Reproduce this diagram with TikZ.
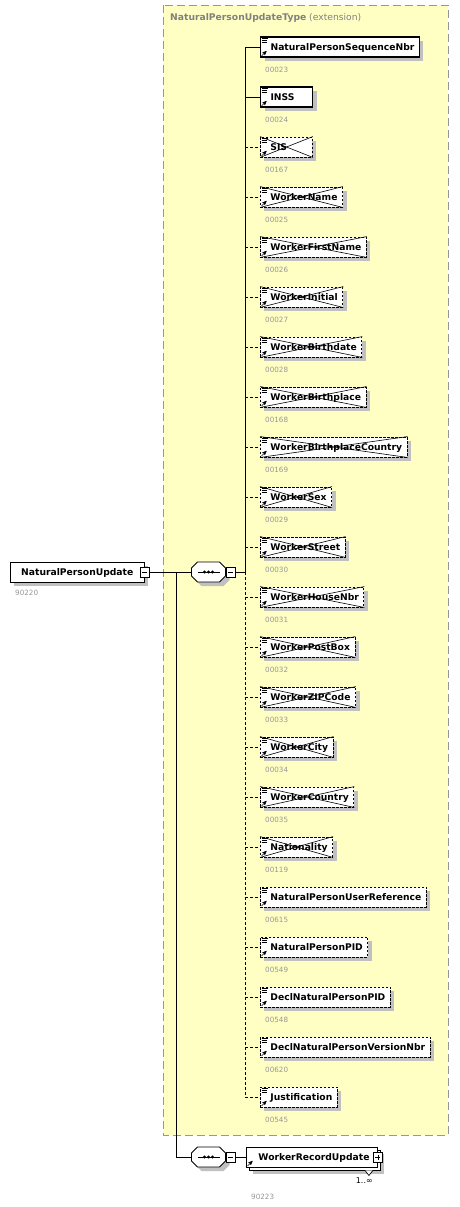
\documentclass[tikz,border=0pt]{standalone}
\usepackage{fontspec}
\setmainfont{DejaVu Sans}
\usetikzlibrary{positioning,arrows,shadows}
\definecolor{typefill}{RGB}{255,255,196}
\definecolor{typeline}{RGB}{150,150,150}
\definecolor{shadowgrey}{RGB}{192,192,192}
\definecolor{numgrey}{RGB}{150,150,150}
\definecolor{titlegrey}{RGB}{128,128,128}
\newlength\eltmin
\setlength\eltmin{37pt}
\newcommand\eltname[1]{\hspace*{5pt}\setbox0=\hbox{#1}\ifdim\wd0<\eltmin\makebox[\eltmin][l]{#1}\else\box0\fi}
\newcommand\seqpath{(-17,-4) -- (-11,-10) -- (11,-10) -- (17,-4) -- (17,4) -- (11,10) -- (-11,10) -- (-17,4) -- cycle}
\tikzset{
	>=stealth',
	shade box/.style={drop shadow={shadow xshift=4pt, shadow yshift=-4pt, fill=shadowgrey, opacity=1}},
	element/.style={
		rectangle,
		draw=black, fill=white,
		anchor=west,
		minimum height=20pt,
		inner ysep=0pt, inner xsep=5pt,
		text height=6.8pt, text depth=0pt,
		font=\fontsize{9.2}{11}\selectfont\bfseries,
		shade box},
	kindm/.style={line width=1.1pt},
	kindo/.style={line width=0.9pt, dash pattern=on 2.5pt off 1.5pt},
	kindx/.style={kindo,
		append after command={
			(\tikzlastnode.north west) edge[draw=black, solid, line width=0.6pt] (\tikzlastnode.south east)
			(\tikzlastnode.south west) edge[draw=black, solid, line width=0.6pt] (\tikzlastnode.north east)}},
	number/.style={anchor=west, inner sep=0pt, text=numgrey, font=\fontsize{7.2}{8}\selectfont},
	compositor/.style={rectangle, minimum width=34pt, minimum height=20pt, inner sep=0pt},
	toggle/.style={rectangle, draw=black, fill=white, minimum width=9pt, minimum height=10pt, inner sep=0pt, line width=0.7pt},
	wire/.style={draw, line width=0.8pt},
	optwire/.style={wire, dash pattern=on 3pt off 2pt},
	linkm/.style={wire},
	linko/.style={optwire},
	linkx/.style={optwire},
	icon/.style={draw, line width=0.6pt, solid},
	typebox/.style={fill=typefill, draw=typeline, line width=0.9pt, dash pattern=on 8pt off 4pt},
}
\begin{document}
\begin{tikzpicture}[x=1pt, y=-1pt]
\useasboundingbox (0,0) rectangle (459,1207);

% extension type
\draw[typebox] (163,5) rectangle (448,1135);
\node[anchor=west, inner sep=0pt, text=titlegrey, font=\fontsize{9.2}{11}\selectfont] (title) at (170,18)
	{\textbf{NaturalPersonUpdateType} (extension)};

\coordinate (spine) at (245,572);
\coordinate (split) at (176,572);

\foreach \nm/\nr/\kd [count=\i] in {
	NaturalPersonSequenceNbr/00023/m, INSS/00024/m, SIS/00167/x,
	WorkerName/00025/x, WorkerFirstName/00026/x, WorkerInitial/00027/x,
	WorkerBirthdate/00028/x, WorkerBirthplace/00168/x,
	WorkerBirthplaceCountry/00169/x, WorkerSex/00029/x, WorkerStreet/00030/x,
	WorkerHouseNbr/00031/x, WorkerPostBox/00032/x, WorkerZIPCode/00033/x,
	WorkerCity/00034/x, WorkerCountry/00035/x, Nationality/00119/x,
	NaturalPersonUserReference/00615/o, NaturalPersonPID/00549/o,
	DeclNaturalPersonPID/00548/o, DeclNaturalPersonVersionNbr/00620/o,
	Justification/00545/o}
{
	\node[element, kind\kd] (e\i) at (260,{47+50*(\i-1)}) {\eltname{\nm}};
	\node[number] (n\i) at ([shift={(5,12)}]e\i.south west) {\nr};
	\draw[link\kd] (e\i.west -| spine) -- (e\i.west);
	\draw[icon] ([shift={(1.5,1.5)}]e\i.north west) -- ++(6,0)
		++(-6,2) -- ++(5,0) ++(-5,2) -- ++(5,0);
	\draw[icon, ->] ([shift={(1.5,-1.5)}]e\i.south west) -- ++(5,-5);
}
\draw[wire] (spine) -- (spine |- e1.west);
\draw[optwire] (spine) -- (spine |- e22.west);

% root element
\node[element, inner xsep=11pt] (root) at (10,572) {NaturalPersonUpdate};
\node[toggle] (rootToggle) at (root.east) {};
\node[number] (rootNr) at ([shift={(5,11)}]root.south west) {90220};

% sequences
\node[compositor] (seqA) at (208.5,572) {};
\node[compositor] (seqB) at (208.5,1157) {};
\foreach \s in {seqA,seqB}{
	\begin{scope}[shift={(\s.center)}]
		\fill[shadowgrey, shift={(4,4)}] \seqpath;
		\draw[fill=white, line width=0.9pt] \seqpath;
		\draw[line width=0.8pt] (-11,0) -- (11,0);
		\foreach \dx in {-4,0,4} \fill (\dx,0) circle (1.6);
	\end{scope}
}
\node[toggle, right=0pt of seqA] (togA) {};
\node[toggle, right=0pt of seqB] (togB) {};

% repeated element
\node[element, line width=0.9pt, drop shadow={shadow xshift=7pt, shadow yshift=-7pt, fill=shadowgrey, opacity=1},
	copy shadow={shadow xshift=3pt, shadow yshift=-3pt, line width=0.9pt}]
	(wru) at (246,1157) {\hspace*{7pt}WorkerRecordUpdate\hspace*{3pt}};
\draw[icon, ->] ([shift={(1.5,-1.5)}]wru.south west) -- ++(5,-5);
\node[toggle] (wruToggle) at (wru.east) {};
\draw[line width=0.7pt, fill=white] ([shift={(-13,3)}]wru.south east) -- ++(4,5) -- ++(4,-5);
\node[anchor=north east, inner sep=0pt, font=\fontsize{8}{9}\selectfont] (mult) at ([shift={(-5,10)}]wru.south east) {1..∞};
\node[number] (wruNr) at ([shift={(5,29)}]wru.south west) {90223};

% minus / plus signs
\foreach \t in {rootToggle,togA,togB,wruToggle}
	\draw[line width=0.7pt] (\t.west) ++(2,0) -- ++(5,0);
\draw[line width=0.7pt] (wruToggle.center) ++(0,-2.5) -- ++(0,5);

% connectors
\draw[wire] (rootToggle.east) -- (seqA.west);
\draw[wire] (togA.east) -- (spine);
\draw[wire] (split) |- (seqB.west);
\draw[wire] (togB.east) -- (wru.west);
\end{tikzpicture}
\end{document}
